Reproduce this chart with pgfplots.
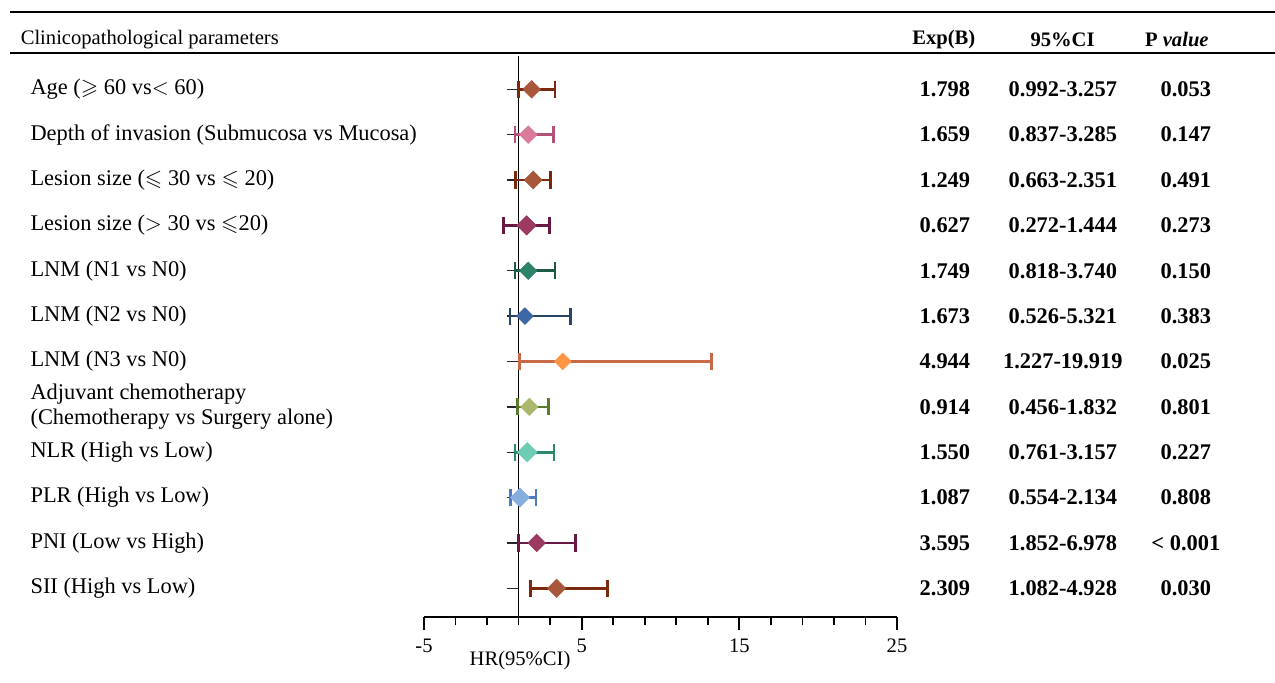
\documentclass[border=0pt]{standalone}
\usepackage{amssymb}
\usepackage{fontspec}
\setmainfont{Liberation Serif}
\usepackage{pgfplots}
\pgfplotsset{compat=1.18}

\definecolor{brownF}{HTML}{A9573A}\definecolor{brownB}{HTML}{7A2A0C}
\definecolor{pinkF}{HTML}{DB7B9B}\definecolor{pinkB}{HTML}{B5507A}
\definecolor{plumF}{HTML}{9B3A60}\definecolor{plumB}{HTML}{6A1844}
\definecolor{tealF}{HTML}{2C8369}\definecolor{tealB}{HTML}{1C5A47}
\definecolor{navyF}{HTML}{3E68A5}\definecolor{navyB}{HTML}{2A4468}
\definecolor{orngF}{HTML}{FF9645}\definecolor{orngB}{HTML}{C86A48}
\definecolor{oliveF}{HTML}{ABB76B}\definecolor{oliveB}{HTML}{5C7A2C}
\definecolor{mintF}{HTML}{6DCDB4}\definecolor{mintB}{HTML}{2A8A6C}
\definecolor{skyF}{HTML}{88AEDD}\definecolor{skyB}{HTML}{4C7CBE}

\newcommand{\fs}{\fontsize{10.3}{12.5}\selectfont}
\newcommand{\fb}{\fontsize{11.2}{12.8}\selectfont}
\tikzset{lbl/.style={anchor=west, inner xsep=0pt, font=\fb}}

% row, HR, lower, upper, fill, bar colour, diamond size
\newcommand{\frow}[7]{%
  \addplot[only marks, mark=square*, mark size=#7,
    mark options={rotate=45, fill=#5, draw=#5, line width=0.3pt},
    error bars/.cd, x dir=both, x explicit,
    error bar style={draw=#6, line width=1.3pt},
    error mark options={draw=#6, line width=1.4pt, mark size=4.3pt, rotate=90}]
    table[x=hr, y=row, x error plus expr=\thisrow{hi}-\thisrow{hr},
          x error minus expr=\thisrow{hr}-\thisrow{lo}, row sep=\\]
    {row hr lo hi\\ #1 #2 #3 #4\\};}

% row, Exp(B), CI, P
\newcommand{\trow}[4]{%
  \node[font=\fb\bfseries] at (axis cs:28.04,#1) {#2};
  \node[font=\fb\bfseries] at (axis cs:35.52,#1) {#3};
  \node[font=\fb\bfseries] at (axis cs:43.32,#1) {#4};}

\begin{document}
\begin{tikzpicture}[font=\fs]
\path[use as bounding box] (0,0) rectangle (637.5pt,341.5pt);
\begin{axis}[
  at={(212pt,32.85pt)}, anchor=south west,
  scale only axis, width=236.5pt, height=280.65pt,
  xmin=-5, xmax=25, ymin=0.361, ymax=12.734,
  axis x line=bottom, axis y line=none,
  axis line style={-, line width=0.9pt},
  xtick={-5,5,15,25}, xticklabels={-5,5,15,25},
  minor xtick={-3,-1,1,3,7,9,11,13,17,19,21,23},
  tick align=outside, major tick length=6.5pt, minor tick length=4pt,
  every tick/.style={black, line width=0.9pt},
  ytick=\empty,
  xticklabel style={font=\fs, yshift=-0.8pt},
  clip=false,
]
% header rules and titles
\draw[line width=1.1pt] (axis cs:-31.25,13.711) -- (axis cs:48.96,13.711);
\draw[line width=1.1pt] (axis cs:-31.25,12.794) -- (axis cs:48.96,12.794);
\node[anchor=west, inner xsep=0pt] at (axis cs:-30.6,13.10) {Clinicopathological parameters};
\node at (axis cs:27.97,13.10) {\bfseries Exp(B)};
\node at (axis cs:35.5,13.10) {\bfseries 95\%CI};
\node at (axis cs:42.75,13.10) {\bfseries P \textit{value}};

% reference line and row ticks
\draw[black, line width=0.75pt] (axis cs:1,0.361) -- (axis cs:1,12.734);
\pgfplotsinvokeforeach{1,...,12}{\draw[black!85, line width=0.7pt] (axis cs:0.28,#1) -- (axis cs:1,#1);}

\frow{12}{1.83}{0.98}{3.31}{brownF}{brownB}{3.1pt}
\frow{11}{1.61}{0.77}{3.20}{pinkF}{pinkB}{3.1pt}
\frow{10}{1.93}{0.81}{3.03}{brownF}{brownB}{3.15pt}
\frow{9}{1.51}{0.03}{2.95}{plumF}{plumB}{3.4pt}
\frow{8}{1.61}{0.77}{3.31}{tealF}{tealB}{3.1pt}
\frow{7}{1.40}{0.45}{4.30}{navyF}{navyB}{2.95pt}
\frow{6}{3.80}{1.04}{13.24}{orngF}{orngB}{2.95pt}
\frow{5}{1.68}{0.94}{2.88}{oliveF}{oliveB}{3.05pt}
\frow{4}{1.55}{0.77}{3.24}{mintF}{mintB}{3.45pt}
\frow{3}{1.09}{0.50}{2.10}{skyF}{skyB}{3.35pt}
\frow{2}{2.15}{0.98}{4.62}{plumF}{plumB}{3.1pt}
\frow{1}{3.41}{1.77}{6.65}{brownF}{brownB}{3.2pt}

% row labels
\node[lbl] at (axis cs:-29.98,12) {Age ($\geqslant$ 60 vs$<$ 60)};
\node[lbl] at (axis cs:-29.98,11) {Depth of invasion (Submucosa vs Mucosa)};
\node[lbl] at (axis cs:-29.98,10) {Lesion size ($\leqslant$ 30 vs $\leqslant$ 20)};
\node[lbl] at (axis cs:-29.98,9) {Lesion size ($>$ 30 vs $\leqslant$20)};
\node[lbl] at (axis cs:-29.98,8) {LNM (N1 vs N0)};
\node[lbl] at (axis cs:-29.98,7) {LNM (N2 vs N0)};
\node[lbl] at (axis cs:-29.98,6) {LNM (N3 vs N0)};
\node[lbl, align=left] at (axis cs:-29.98,5) {Adjuvant chemotherapy\\(Chemotherapy vs Surgery alone)};
\node[lbl] at (axis cs:-29.98,4) {NLR (High vs Low)};
\node[lbl] at (axis cs:-29.98,3) {PLR (High vs Low)};
\node[lbl] at (axis cs:-29.98,2) {PNI (Low vs High)};
\node[lbl] at (axis cs:-29.98,1) {SII (High vs Low)};

% table columns
\trow{12}{1.798}{0.992-3.257}{0.053}
\trow{11}{1.659}{0.837-3.285}{0.147}
\trow{10}{1.249}{0.663-2.351}{0.491}
\trow{9}{0.627}{0.272-1.444}{0.273}
\trow{8}{1.749}{0.818-3.740}{0.150}
\trow{7}{1.673}{0.526-5.321}{0.383}
\trow{6}{4.944}{1.227-19.919}{0.025}
\trow{5}{0.914}{0.456-1.832}{0.801}
\trow{4}{1.550}{0.761-3.157}{0.227}
\trow{3}{1.087}{0.554-2.134}{0.808}
\trow{2}{3.595}{1.852-6.978}{\textless{} 0.001}
\trow{1}{2.309}{1.082-4.928}{0.030}

\node at (axis cs:1.09,-0.60) {HR(95\%CI)};
\end{axis}
\end{tikzpicture}
\end{document}
